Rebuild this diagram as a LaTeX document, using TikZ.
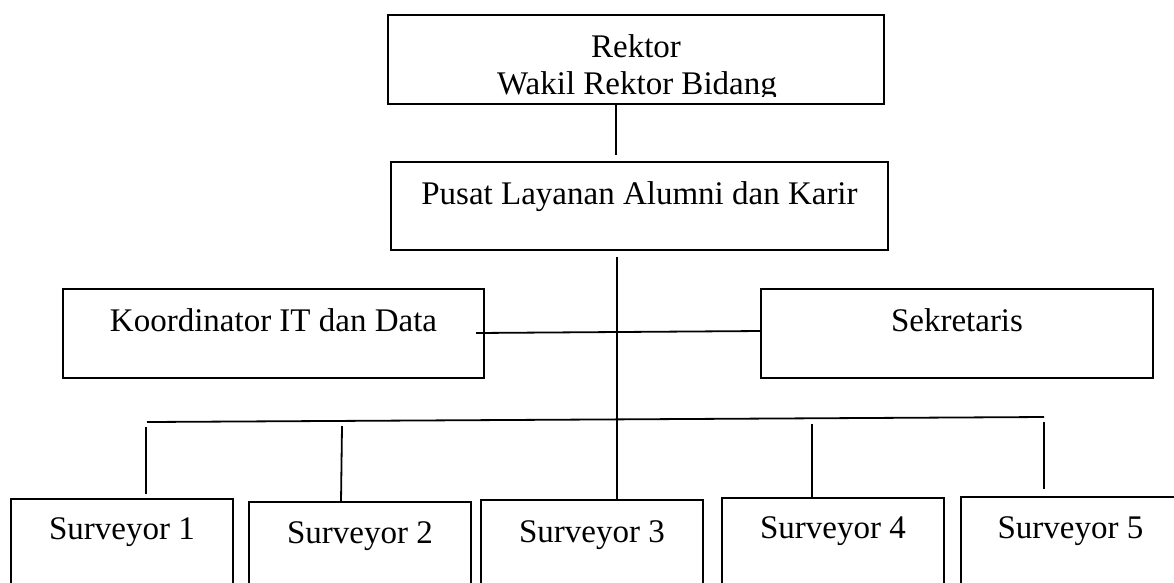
\documentclass[tikz,border=0pt]{standalone}
\usepackage{fontspec}
\setmainfont{Liberation Serif}
\begin{document}
\begin{tikzpicture}[x=1pt, y=-1pt,
	unit/.style={draw, line width=1.8pt, inner sep=0pt, outer sep=0pt, anchor=north west, font=\fontsize{33}{38}\selectfont},
	link/.style={line width=1.8pt}]
	\useasboundingbox (0,0) rectangle (1174,582);
	% boxes
	\node[unit, minimum width=496pt, text height=42pt, text depth=47pt] (rektor) at (388,15) {Rektor};
	\begin{scope}
		\clip (rektor.north west) rectangle ([yshift=8pt]rektor.south east);
		\node[font=\fontsize{33}{38}\selectfont, inner sep=0pt, anchor=base] (wakil) at (637,94) {Wakil Rektor Bidang};
	\end{scope}
	\node[unit, minimum width=497pt, text height=42pt, text depth=46pt] (pusat) at (391,162) {Pusat Layanan Alumni dan Karir};
	\node[unit, minimum width=421pt, text height=42pt, text depth=47pt] (koor) at (63,289) {Koordinator IT dan Data};
	\node[unit, minimum width=392pt, text height=42pt, text depth=47pt] (sekr) at (761,289) {Sekretaris};
	\node[unit, minimum width=222pt, text height=40pt, text depth=91pt] (s1) at (11,499) {Surveyor 1};
	\node[unit, minimum width=222pt, text height=41pt, text depth=88pt] (s2) at (249,502) {Surveyor 2};
	\node[unit, minimum width=222pt, text height=42pt, text depth=90pt] (s3) at (481,500) {Surveyor 3};
	\node[unit, minimum width=222pt, text height=40pt, text depth=92pt] (s4) at (722,498) {Surveyor 4};
	\node[unit, minimum width=241pt, text height=41pt, text depth=93pt] (s5) at (961,497) {Surveyor 5\hspace*{22pt}};
	% lines
	\coordinate (top) at (616,155);
	\coordinate (mid) at (617,257);
	\coordinate (busl) at (147,422);
	\coordinate (busr) at (1044,417);
	\draw[link] ([xshift=-20pt]rektor.south) -- (top);
	\draw[link] (mid) -- (mid |- s3.north);
	\draw[link] ([xshift=-8pt, yshift=0.5pt]koor.east) -- ([yshift=2.5pt]sekr.west);
	\draw[link] (busl) -- (busr);
	\draw[link] (146,427) -- ([xshift=24pt, yshift=5pt]s1.north);
	\draw[link] (342,426) -- ([xshift=-19pt]s2.north);
	\draw[link] (812,424) -- ([xshift=-21pt]s4.north);
	\draw[link] (1044,422) -- ([xshift=-37.5pt, yshift=8pt]s5.north);
\end{tikzpicture}
\end{document}
